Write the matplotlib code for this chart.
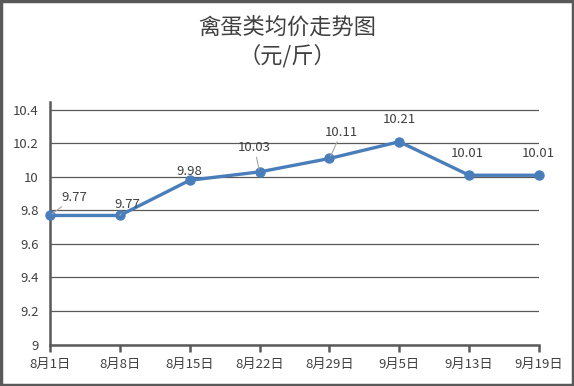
import matplotlib
matplotlib.use("Agg")
import matplotlib.pyplot as plt
from matplotlib.patches import Rectangle

plt.rcParams['font.family'] = ['Noto Sans CJK SC', 'DejaVu Sans']

dates = ["8月1日", "8月8日", "8月15日", "8月22日", "8月29日", "9月5日", "9月13日", "9月19日"]
prices = [9.77, 9.77, 9.98, 10.03, 10.11, 10.21, 10.01, 10.01]
yticks = [9, 9.2, 9.4, 9.6, 9.8, 10, 10.2, 10.4]
ytick_labels = ["9", "9.2", "9.4", "9.6", "9.8", "10", "10.2", "10.4"]

# label offsets in pixels (dx, dy) and whether a leader line is drawn
label_offsets = [(24, 18), (7, 11), (0, 9), (-5, 24), (12, 26), (0, 22), (-2, 22), (-1, 22)]
leaders = [True, True, False, True, True, False, False, False]

gray = "#595959"
blue = "#4A7EBB"
text_col = "#404040"

fig = plt.figure(figsize=(5.74, 3.86), dpi=100)
ax = fig.add_axes([50/574, 1-344.5/386, 489/574, 243/386])

x = list(range(len(dates)))
ax.plot(x, prices, color=blue, lw=2.4, marker='o', ms=6.5, zorder=3, clip_on=False)

ax.set_xlim(0, len(dates)-1)
ax.set_ylim(9, 10.45)
ax.set_yticks(yticks)
ax.set_yticklabels(ytick_labels)
ax.set_xticks(x)
ax.set_xticklabels(dates)
ax.yaxis.grid(True, color=gray, lw=0.9)
ax.set_axisbelow(True)
for s in ['top', 'right']:
    ax.spines[s].set_visible(False)
for s in ['left', 'bottom']:
    ax.spines[s].set_color(gray)
    ax.spines[s].set_linewidth(1.8)
ax.tick_params(axis='y', length=0, labelsize=9.5, labelcolor=text_col, pad=8)
ax.tick_params(axis='x', length=5, width=1.8, color=gray, labelsize=9.5, labelcolor=text_col, pad=5)

px = 72 / 100
for xi, yi, (dx, dy), ld in zip(x, prices, label_offsets, leaders):
    kw = {}
    if ld:
        kw['arrowprops'] = dict(arrowstyle='-', color='#A6A6A6', lw=0.8, shrinkA=0, shrinkB=2)
    ax.annotate(f"{yi:.2f}", xy=(xi, yi), xytext=(dx*px, dy*px), textcoords='offset points',
                ha='center', va='center', fontsize=9.5, color=text_col, zorder=4, **kw)

fig.text(0.5, 1-27/386, "禽蛋类均价走势图", ha='center', va='center', fontsize=16, color=text_col)
fig.text(0.5, 1-56/386, "（元/斤）", ha='center', va='center', fontsize=16, color=text_col)

fig.patches.append(Rectangle((0.002, 0.003), 0.996, 0.994, transform=fig.transFigure,
                             fill=False, edgecolor=gray, lw=2.5))

fig.savefig("out.png", dpi=100, facecolor='white')
